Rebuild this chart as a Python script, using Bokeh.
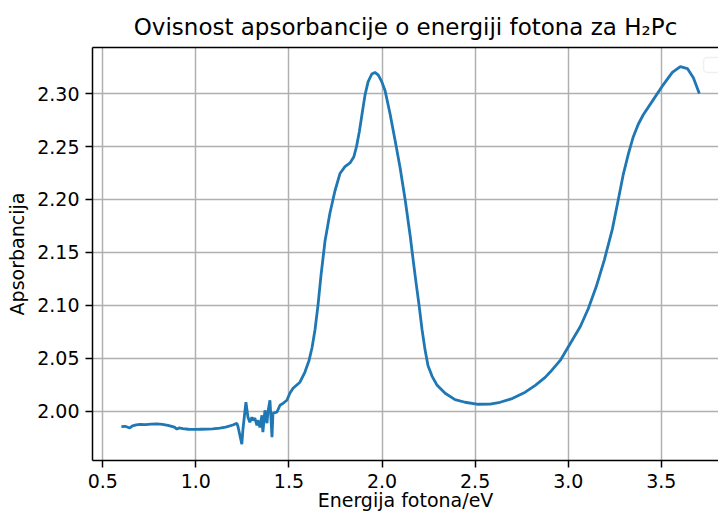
from bokeh.plotting import figure
from bokeh.models import Range1d, FixedTicker, PrintfTickFormatter, LinearAxis, BoxAnnotation
from bokeh.embed import file_html
from bokeh.resources import INLINE

# ---- data ----
energy = [
    0.600, 0.620, 0.645, 0.660, 0.680, 0.700, 0.730, 0.760, 0.790, 0.820,
    0.850, 0.870, 0.885, 0.898, 0.910, 0.930, 0.960, 1.000, 1.030, 1.060,
    1.090, 1.129, 1.160, 1.199, 1.220, 1.226, 1.247, 1.253, 1.269, 1.280,
    1.290, 1.301, 1.306, 1.317, 1.328, 1.333, 1.344, 1.355, 1.360, 1.371,
    1.382, 1.387, 1.398, 1.409, 1.414, 1.435, 1.452, 1.468, 1.489, 1.505,
    1.522, 1.559, 1.586, 1.608, 1.624, 1.640, 1.656, 1.672, 1.694, 1.720,
    1.747, 1.774, 1.801, 1.828, 1.848, 1.863, 1.878, 1.892, 1.909, 1.925,
    1.945, 1.962, 1.980, 1.999, 2.016, 2.043, 2.070, 2.097, 2.124, 2.151,
    2.167, 2.183, 2.199, 2.215, 2.231, 2.247, 2.269, 2.296, 2.339, 2.392,
    2.446, 2.516, 2.580, 2.634, 2.699, 2.769, 2.823, 2.876, 2.903, 2.957,
    3.011, 3.065, 3.108, 3.151, 3.194, 3.237, 3.269, 3.296, 3.323, 3.349,
    3.376, 3.403, 3.457, 3.511, 3.559, 3.602, 3.640, 3.672, 3.704,
]
absorbance = [
    1.9855, 1.9858, 1.9842, 1.9862, 1.9872, 1.9876, 1.9874, 1.9878, 1.9880, 1.9877,
    1.9867, 1.9858, 1.9850, 1.9832, 1.9842, 1.9836, 1.9830, 1.9828, 1.9830, 1.9832,
    1.9834, 1.9840, 1.9850, 1.9870, 1.9887, 1.9858, 1.9689, 1.9830, 2.0085, 1.9943,
    1.9896, 1.9943, 1.9915, 1.9934, 1.9868, 1.9915, 1.9849, 1.9962, 1.9802, 2.0009,
    1.9887, 1.9991, 2.0104, 1.9755, 1.9981, 1.9991, 2.0057, 2.0075, 2.0104, 2.0170,
    2.0217, 2.0274, 2.0370, 2.0480, 2.0600, 2.0770, 2.1000, 2.1280, 2.1610, 2.1870,
    2.2080, 2.2245, 2.2310, 2.2345, 2.2400, 2.2500, 2.2640, 2.2800, 2.2990, 2.3110,
    2.3185, 2.3200, 2.3175, 2.3110, 2.3030, 2.2810, 2.2560, 2.2300, 2.2000, 2.1660,
    2.1430, 2.1210, 2.1000, 2.0770, 2.0580, 2.0430, 2.0330, 2.0245, 2.0170, 2.0110,
    2.0085, 2.0066, 2.0068, 2.0085, 2.0120, 2.0180, 2.0245, 2.0320, 2.0370, 2.0480,
    2.0640, 2.0800, 2.0970, 2.1180, 2.1430, 2.1720, 2.2000, 2.2240, 2.2430, 2.2590,
    2.2710, 2.2800, 2.2943, 2.3085, 2.3200, 2.3255, 2.3236, 2.3150, 2.3000,
]
x_ticks = [0.5, 1.0, 1.5, 2.0, 2.5, 3.0, 3.5]
y_ticks = [2.00, 2.05, 2.10, 2.15, 2.20, 2.25, 2.30]

title_text = "Ovisnost apsorbancije o energiji fotona za H\u2082Pc"
x_label = "Energija fotona/eV"
y_label = "Apsorbancija"

FONT = "DejaVu Sans"
TICK_SIZE = "19px"

p = figure(
    width=718, height=515,
    output_backend="svg", toolbar_location=None,
    x_range=Range1d(0.445, 3.807), y_range=Range1d(1.9535, 2.3435),
    min_border_left=92, min_border_right=0, min_border_top=47, min_border_bottom=55,
    title=title_text,
)
p.background_fill_color = "white"
p.border_fill_color = "white"
p.outline_line_color = None

p.title.text_font = FONT
p.title.text_font_size = "23px"
p.title.text_font_style = "normal"
p.title.text_color = "black"
p.title.align = "center"
p.title.standoff = 15

p.line(energy, absorbance, line_color="#1f77b4", line_width=2.8)

for ax, ticks, fmt in ((p.xaxis[0], x_ticks, "%.1f"), (p.yaxis[0], y_ticks, "%.2f")):
    ax.ticker = FixedTicker(ticks=ticks)
    ax.formatter = PrintfTickFormatter(format=fmt)
    ax.minor_tick_line_color = None
    ax.major_tick_in = 0
    ax.major_tick_out = 7
    ax.major_tick_line_width = 1.5
    ax.major_tick_line_color = "black"
    ax.axis_line_width = 1.5
    ax.axis_line_color = "black"
    ax.major_label_standoff = 6
    ax.major_label_text_font = FONT
    ax.major_label_text_font_size = TICK_SIZE
    ax.major_label_text_color = "black"
    ax.axis_label_text_font = FONT
    ax.axis_label_text_font_size = TICK_SIZE
    ax.axis_label_text_font_style = "normal"
    ax.axis_label_text_color = "black"

p.xaxis.axis_label = x_label
p.xaxis.axis_label_standoff = -2
p.yaxis.axis_label = y_label
p.yaxis.axis_label_standoff = 6

top_axis = LinearAxis(ticker=FixedTicker(ticks=[]), major_label_text_font_size="0px",
                      major_tick_out=0, major_tick_in=0, minor_tick_out=0, minor_tick_in=0,
                      axis_line_width=1.5, axis_line_color="black", major_label_standoff=0)
p.add_layout(top_axis, "above")

p.grid.grid_line_color = "#b0b0b0"
p.grid.grid_line_width = 1.5

p.add_layout(BoxAnnotation(left=611, right=640, top=403, bottom=388,
                           left_units="screen", right_units="screen",
                           top_units="screen", bottom_units="screen",
                           fill_color="white", fill_alpha=0.8,
                           line_color="#cccccc", line_width=1.5, border_radius=4))

open("out.html", "w").write(file_html(p, INLINE))
